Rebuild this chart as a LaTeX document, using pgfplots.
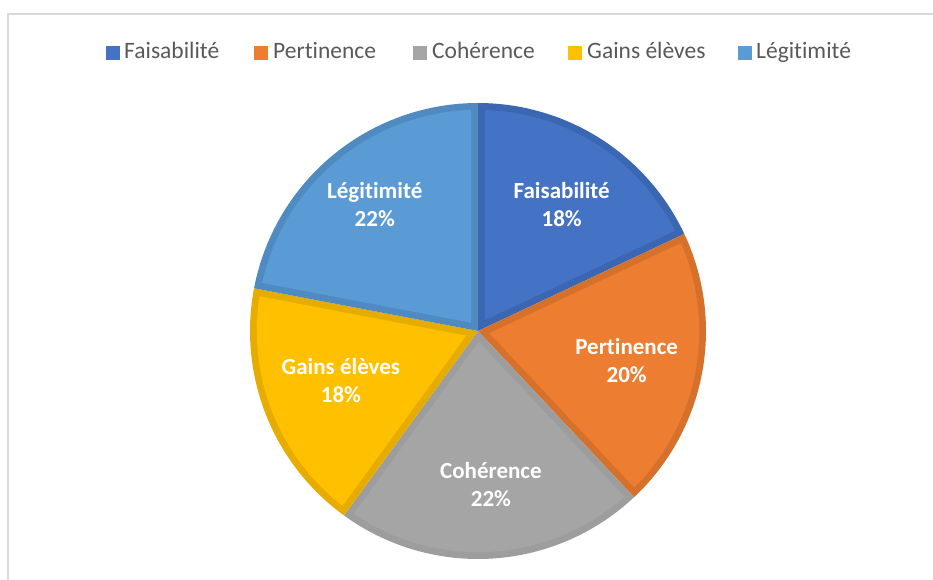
\documentclass[border=0pt]{standalone}
\usepackage{pgfplots}
\pgfplotsset{compat=1.18}
\usepgfplotslibrary{polar}
\usepackage{fontspec}
\setmainfont{Carlito}[Ligatures=NoCommon]
\definecolor{cF}{HTML}{4472C4}\definecolor{bF}{HTML}{3B66B2}
\definecolor{cP}{HTML}{ED7D31}\definecolor{bP}{HTML}{D6712C}
\definecolor{cC}{HTML}{A5A5A5}\definecolor{bC}{HTML}{9D9D9D}
\definecolor{cG}{HTML}{FFC000}\definecolor{bG}{HTML}{E6AD00}
\definecolor{cL}{HTML}{5B9BD5}\definecolor{bL}{HTML}{4F8BC1}
\definecolor{frame}{HTML}{D9D9D9}
\definecolor{legtext}{HTML}{595959}
\tikzset{lbl/.style={font=\fontsize{23}{28}\selectfont\bfseries, text=white, align=center}}
\begin{document}
\begin{tikzpicture}
\useasboundingbox (0pt,0pt) rectangle (933pt,580pt);
\fill[white] (0pt,0pt) rectangle (933pt,580pt);
\draw[frame, line width=2pt] (933pt,566pt) -- (8pt,566pt) -- (8pt,0pt);
% legend
\begin{scope}[every node/.style={font=\fontsize{23.5}{28}\selectfont, text=legtext, inner sep=0pt, anchor=base west}]
\fill[cF] (106pt,520pt) rectangle ++(14pt,14pt);
\node at (124pt,521pt) {Faisabilité};
\fill[cP] (254pt,520pt) rectangle ++(14pt,14pt);
\node at (273pt,521pt) {Pertinence};
\fill[cC] (413pt,520pt) rectangle ++(14pt,14pt);
\node at (432pt,521pt) {Cohérence};
\fill[cG] (568pt,520pt) rectangle ++(14pt,14pt);
\node at (587pt,521pt) {Gains élèves};
\fill[cL] (738pt,520pt) rectangle ++(14pt,14pt);
\node at (756pt,521pt) {Légitimité};
\end{scope}
% pie: shares 18, 20, 22, 18, 22 (%), clockwise from 90 deg
\begin{polaraxis}[at={(478pt,249pt)}, anchor=center, scale only axis,
  width=456pt, height=456pt, ymin=0, ymax=1, hide axis, clip=false]
% Faisabilite 18% : 90 -> 25.2
\addplot[draw=none, fill=bF, domain=25.2:90, samples=60] {1} -- (axis cs:0,0) -- cycle;
\addplot[draw=none, fill=cF, domain=26.97:88.23, samples=60] {0.97} -- (axis cs:57.6,0.056) -- cycle;
% Pertinence 20% : 25.2 -> -46.8
\addplot[draw=none, fill=bP, domain=-46.8:25.2, samples=60] {1} -- (axis cs:0,0) -- cycle;
\addplot[draw=none, fill=cP, domain=-45.03:23.43, samples=60] {0.97} -- (axis cs:-10.8,0.051) -- cycle;
% Coherence 22% : -46.8 -> -126
\addplot[draw=none, fill=bC, domain=-126:-46.8, samples=60] {1} -- (axis cs:0,0) -- cycle;
\addplot[draw=none, fill=cC, domain=-124.23:-48.57, samples=60] {0.97} -- (axis cs:-86.4,0.0471) -- cycle;
% Gains eleves 18% : -126 -> -190.8
\addplot[draw=none, fill=bG, domain=-190.8:-126, samples=60] {1} -- (axis cs:0,0) -- cycle;
\addplot[draw=none, fill=cG, domain=-189.03:-127.77, samples=60] {0.97} -- (axis cs:-158.4,0.056) -- cycle;
% Legitimite 22% : -190.8 -> -270
\addplot[draw=none, fill=bL, domain=-270:-190.8, samples=60] {1} -- (axis cs:0,0) -- cycle;
\addplot[draw=none, fill=cL, domain=-268.23:-192.57, samples=60] {0.97} -- (axis cs:-230.4,0.0471) -- cycle;
\node[lbl] at (axis cs:56.5,0.665) {Faisabilité\\18\%};
\node[lbl] at (axis cs:-11.3,0.665) {Pertinence\\20\%};
\node[lbl] at (axis cs:-85.2,0.675) {Cohérence\\22\%};
\node[lbl] at (axis cs:-160,0.64) {Gains élèves\\18\%};
\node[lbl] at (axis cs:129.3,0.715) {Légitimité\\22\%};
\end{polaraxis}
\end{tikzpicture}
\end{document}
